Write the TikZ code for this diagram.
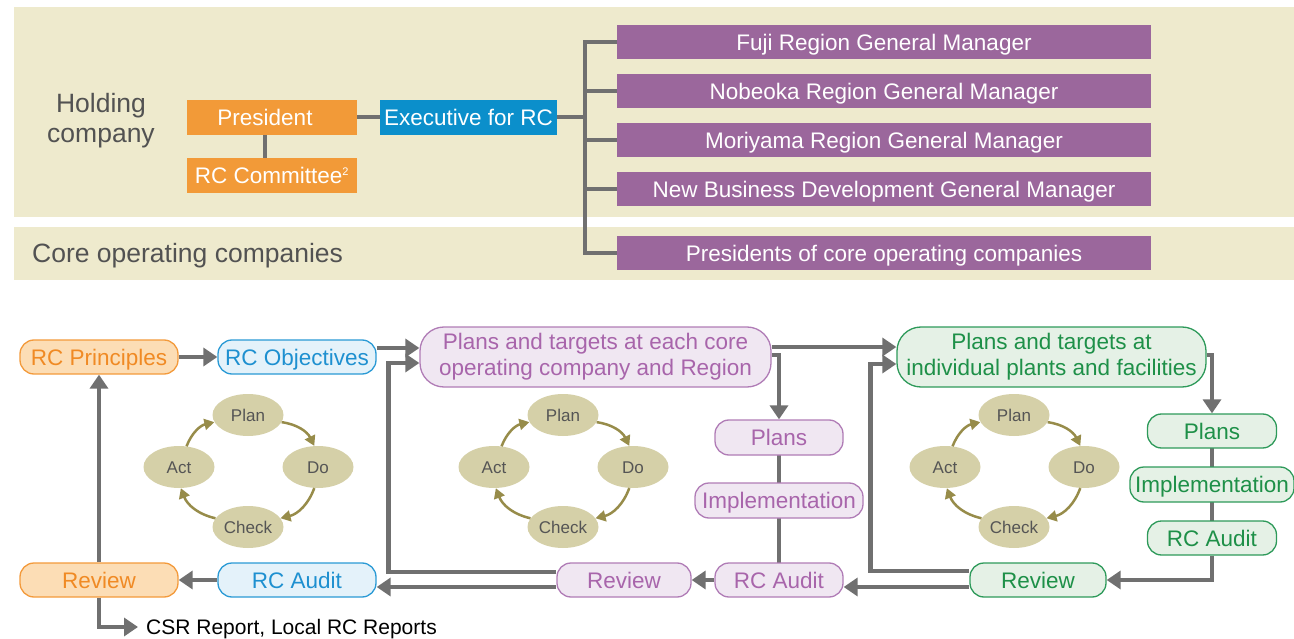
\documentclass[tikz,border=0pt]{standalone}
\usepackage{fontspec}
\setmainfont{Liberation Sans}
\usetikzlibrary{arrows.meta,shapes.geometric}

\definecolor{band}{HTML}{EEEACD}
\definecolor{darktext}{HTML}{525252}
\definecolor{gline}{HTML}{707070}
\definecolor{orangetop}{HTML}{F29A38}
\definecolor{bluetop}{HTML}{0B8FCB}
\definecolor{violettop}{HTML}{9B679C}
\definecolor{oline}{HTML}{F39A3B}
\definecolor{ofill}{HTML}{FCDDB5}
\definecolor{otext}{HTML}{F08A24}
\definecolor{bline}{HTML}{2A9AD5}
\definecolor{bfill}{HTML}{E4F2FA}
\definecolor{btext}{HTML}{1E90D0}
\definecolor{vline}{HTML}{B07CB6}
\definecolor{vfill}{HTML}{F0E7F2}
\definecolor{vtext}{HTML}{A865AB}
\definecolor{grline}{HTML}{2E9A5A}
\definecolor{grfill}{HTML}{E5F1E6}
\definecolor{grtext}{HTML}{1E9048}
\definecolor{pfill}{HTML}{D5D0A8}
\definecolor{parrow}{HTML}{978C4A}
\definecolor{ptext}{HTML}{555555}

\pgfdeclarelayer{bands}
\pgfdeclarelayer{lines}
\pgfsetlayers{bands,lines,main}

\tikzset{
  orgline/.style={draw=gline, line width=4pt},
  conn/.style={draw=gline, line width=4.5pt},
  arr/.style={conn, -{Triangle[length=14pt,width=18pt]}},
  topbox/.style={inner sep=0pt, minimum height=34pt, text=white,
    text height=16pt, text depth=0pt,
    font=\fontsize{22.5}{27}\selectfont},
  pbox/.style={topbox, fill=violettop, minimum width=534pt},
  pill/.style={rounded corners=14pt, line width=1.3pt, inner sep=0pt,
    minimum height=34pt, text height=16pt, text depth=0pt,
    font=\fontsize{22.5}{26}\selectfont},
  opill/.style={pill, draw=oline, fill=ofill, text=otext},
  bpill/.style={pill, draw=bline, fill=bfill, text=btext},
  vpill/.style={pill, draw=vline, fill=vfill, text=vtext},
  gpill/.style={pill, draw=grline, fill=grfill, text=grtext},
  big/.style={rounded corners=24pt, minimum height=60pt, align=center,
    text height={}, text depth={}},
  pdcanode/.style={ellipse, fill=pfill, minimum width=71pt, minimum height=42pt,
    inner sep=0pt, text=ptext, text height=12pt, text depth=0pt,
    font=\fontsize{17}{20}\selectfont},
  pdcaarrow/.style={draw=parrow, line width=2.5pt,
    -{Triangle[length=10pt,width=11pt]}, bend left=28},
  label/.style={text=darktext, font=\fontsize{26.5}{30}\selectfont},
}

% one Plan-Do-Check-Act cycle: name prefix, centre x, centre y
\newcommand\pdcacycle[3]{%
  \node[pdcanode] (#1plan)  at (#2,#3-52) {Plan};
  \node[pdcanode] (#1do)    at (#2+70,#3) {Do};
  \node[pdcanode] (#1check) at (#2,#3+60) {Check};
  \node[pdcanode] (#1act)   at (#2-69,#3) {Act};
  \draw[pdcaarrow] (#1act.70) to (#1plan.192);
  \draw[pdcaarrow] (#1plan.-12) to (#1do.100);
  \draw[pdcaarrow] (#1do.-100) to (#1check.15);
  \draw[pdcaarrow] (#1check.165) to (#1act.-85);
}

\begin{document}
\begin{tikzpicture}[x=1pt,y=-1pt]
\useasboundingbox (0,0) rectangle (1294,639);

% ---------------- organisation ----------------
\begin{pgfonlayer}{bands}
  \fill[band] (14,7) rectangle (1294,217);
  \fill[band] (14,227) rectangle (1294,280);
\end{pgfonlayer}

\node[label, align=center] (hold) at (101,121) {Holding\\company};
\node[label, anchor=west, inner sep=0pt] (corelbl) at (32,256) {Core operating companies};

\node[topbox, fill=orangetop, minimum width=170pt, minimum height=35pt] (pres) at (272,117.5) {President\hspace*{14pt}};
\node[topbox, fill=orangetop, minimum width=170pt, minimum height=35pt] (comm) at (272,175.5) {RC Committee\textsuperscript{\fontsize{11}{12}\selectfont 2}};
\node[topbox, fill=bluetop, minimum width=177pt, minimum height=35pt] (exec) at (468.5,117.5) {Executive for RC};

\node[pbox] (fuji) at (884,42.5)  {Fuji Region General Manager};
\node[pbox] (nobe) at (884,91.5)  {Nobeoka Region General Manager};
\node[pbox] (mori) at (884,140.5) {Moriyama Region General Manager};
\node[pbox] (newb) at (884,189.5) {New Business Development General Manager};
\node[pbox] (cpre) at (884,253.5) {Presidents of core operating companies};

\coordinate (trunk) at (585,117.5);

\begin{pgfonlayer}{lines}
  \draw[orgline] (pres.east) -- (exec.west);
  \draw[orgline] ([xshift=-7pt]pres.south) -- ([xshift=-7pt]pres.south |- comm.north);
  \draw[orgline] (exec.east) -- (trunk);
  \foreach \b in {fuji,nobe,mori,newb,cpre}
    \draw[orgline] (trunk) |- (\b.west);
\end{pgfonlayer}

% ---------------- RC cycle ----------------
\node[opill, minimum width=158pt] (prin) at (99,357) {RC Principles};
\node[bpill, minimum width=158pt] (obj)  at (297,357) {RC Objectives};
\node[vpill, big, minimum width=351pt] (core) at (595.5,357)
  {Plans and targets at each core\\operating company and Region};
\node[gpill, big, minimum width=309pt] (plg) at (1051.5,357)
  {Plans and targets at\\individual plants and facilities};

\node[vpill, minimum width=128pt, minimum height=35pt] (plp)  at (779,437.5) {Plans};
\node[vpill, minimum width=168pt, minimum height=35pt] (imp)  at (779,500.5) {Implementation};
\node[vpill, minimum width=128pt] (audp) at (779,580) {RC Audit};
\node[vpill, minimum width=134pt] (revp) at (624,580) {Review};

\node[gpill, minimum width=129pt] (psg)  at (1212,431) {Plans};
\node[gpill, minimum width=164pt, minimum height=35pt] (img)  at (1212,484.5) {Implementation};
\node[gpill, minimum width=129pt] (aug)  at (1212,538) {RC Audit};
\node[gpill, minimum width=136pt] (revg) at (1038,580) {Review};

\node[opill, minimum width=158pt] (revo) at (99,580) {Review};
\node[bpill, minimum width=158pt] (audb) at (297,580) {RC Audit};

\node[anchor=west, inner xsep=8pt, inner ysep=0pt, font=\fontsize{21}{24}\selectfont] (csr)
  at (138,629) {CSR Report, Local RC Reports};

\pdcacycle{a}{248}{467}
\pdcacycle{b}{563}{467}
\pdcacycle{c}{1014}{467}

\begin{pgfonlayer}{lines}
  \draw[arr] (prin) -- (obj);
  \draw[arr] ([yshift=9pt]obj.east) -- ([yshift=9pt]obj.east -| core.west);
  \draw[arr] ([yshift=8pt]revp.west) -| ([xshift=-31pt,yshift=-6pt]core.west) -- ([yshift=-6pt]core.west);
  \draw[arr] ([yshift=-7pt]revp.west) -- ([yshift=-7pt]revp.west -| audb.east);
  \draw[arr] (audb) -- (revo);
  \draw[arr] (revo) -- (prin);
  \draw[arr] (revo.south) |- ([yshift=2pt]csr.west);

  \draw[arr] ([yshift=10pt]core.east) -- ([yshift=10pt]core.east -| plg.west);
  \draw[arr] ([yshift=2pt]core.east) -| (plp.north);
  \draw[conn] (plp.center) -- (audp.center);
  \draw[arr] (audp) -- (revp);

  \draw[arr] ([yshift=9pt]revg.west) -| ([xshift=-26pt,yshift=-7pt]plg.west) -- ([yshift=-7pt]plg.west);
  \draw[arr] ([yshift=-7pt]revg.west) -- ([yshift=-7pt]revg.west -| audp.east);
  \draw[arr] ([yshift=2pt]plg.east) -| (psg.north);
  \draw[conn] (psg.center) -- (aug.center);
  \draw[arr] (aug.south) |- (revg.east);
\end{pgfonlayer}

\end{tikzpicture}
\end{document}
